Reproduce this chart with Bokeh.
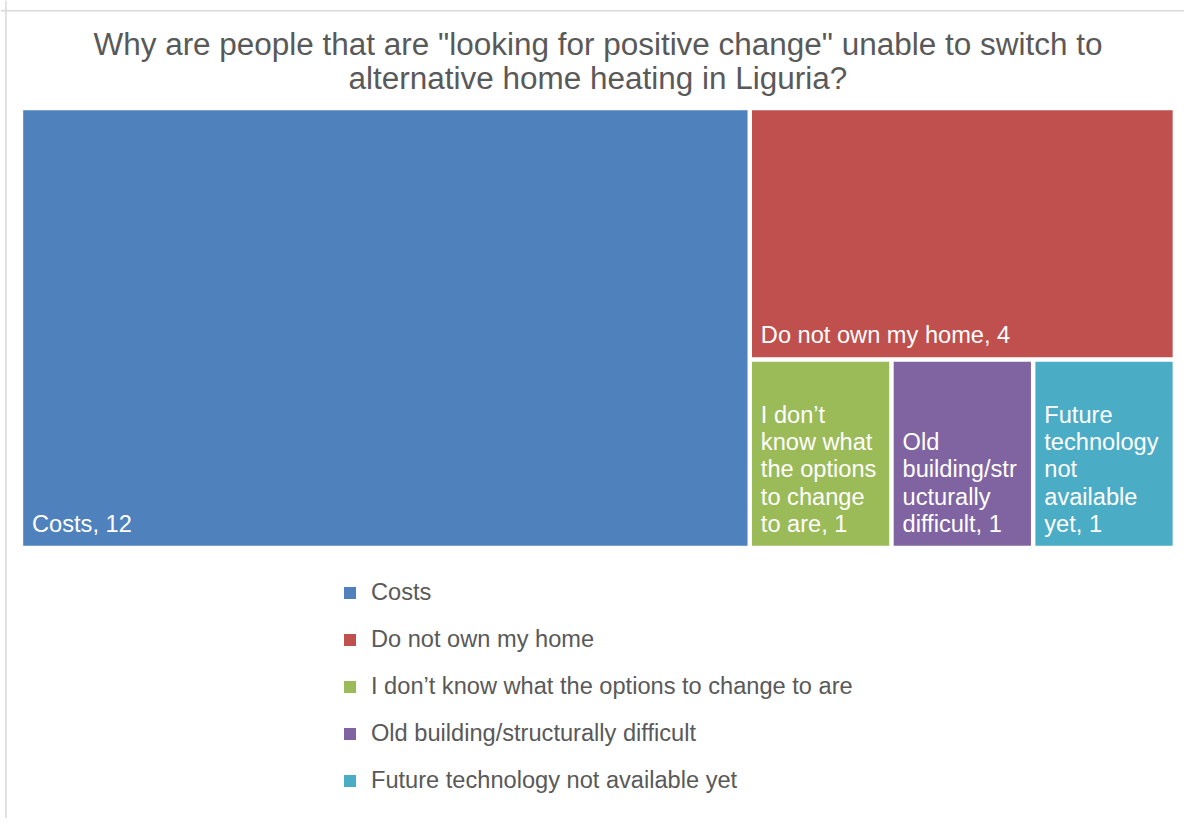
from bokeh.plotting import figure
from bokeh.models import Range1d, Legend, LegendItem, Span, ColumnDataSource
from bokeh.core.properties import value
from bokeh.embed import file_html
from bokeh.resources import INLINE

# ---- data ----
categories = [
    "Costs",
    "Do not own my home",
    "I don\u2019t know what the options to change to are",
    "Old building/structurally difficult",
    "Future technology not available yet",
]
counts = [12, 4, 1, 1, 1]
# box labels, wrapped as in the reference
box_labels = [
    "Costs, 12",
    "Do not own my home, 4",
    "I don\u2019t\nknow what\nthe options\nto change\nto are, 1",
    "Old\nbuilding/str\nucturally\ndifficult, 1",
    "Future\ntechnology\nnot\navailable\nyet, 1",
]
colors = ["#4F81BD", "#C0504D", "#9BBB59", "#8064A2", "#4BACC6"]
title_text = ('Why are people that are "looking for positive change" unable to switch to\n'
              'alternative home heating in Liguria?')

FONT = "Liberation Sans"
W, H = 1184, 818
REF_W, REF_H = 1200, 834
FS = (W / REF_W + H / REF_H) / 2  # font scale


# ---- squarified treemap layout ----
def worst(row, side):
    s = sum(row)
    return max(max(side * side * r / (s * s), s * s / (side * side * r)) for r in row)


def squarify(vals, x, y, w, h):
    total = float(sum(vals))
    sizes = [v * w * h / total for v in vals]
    rects = []
    while sizes:
        side = min(w, h)
        row = [sizes[0]]
        i = 1
        while i < len(sizes) and worst(row + [sizes[i]], side) <= worst(row, side):
            row.append(sizes[i])
            i += 1
        s = sum(row)
        if w >= h:
            cw = s / h
            yy = y
            for r in row:
                rh = r / cw
                rects.append((x, yy, cw, rh))
                yy += rh
            x += cw
            w -= cw
        else:
            rh = s / w
            xx = x
            for r in row:
                rw = r / rh
                rects.append((xx, y, rw, rh))
                xx += rw
            y += rh
            h -= rh
        sizes = sizes[i:]
    return rects


GAP = 4.5
TX0, TY0, TX1, TY1 = 23 - GAP / 2, 112 - GAP / 2, 1188 + GAP / 2, 556 + GAP / 2
rects = squarify(counts, TX0, TY0, TX1 - TX0, TY1 - TY0)

left = [r[0] + GAP / 2 for r in rects]
right = [r[0] + r[2] - GAP / 2 for r in rects]
top = [r[1] + GAP / 2 for r in rects]
bottom = [r[1] + r[3] - GAP / 2 for r in rects]

src = ColumnDataSource(dict(
    left=left, right=right, top=top, bottom=bottom,
    color=colors, label=box_labels,
    lx=[l + 9 for l in left],
    ly=[b - 9 for b in bottom],
))

p = figure(width=W, height=H, output_backend="svg", toolbar_location=None,
           x_range=Range1d(0, REF_W), y_range=Range1d(REF_H, 0),
           x_axis_location=None, y_axis_location=None, min_border=0,
           background_fill_color="white", border_fill_color="white")
p.outline_line_color = None
p.xgrid.visible = False
p.ygrid.visible = False
p.title.visible = False

# chart border (only top and left edges are visible in the reference)
p.add_layout(Span(location=10.5, dimension="width", line_color="#d9d9d9", line_width=1.5))
p.add_layout(Span(location=5.5, dimension="height", line_color="#d9d9d9", line_width=1.5))

tm = p.quad(left="left", right="right", top="top", bottom="bottom", source=src,
            fill_color="color", line_color=None)

p.text(x="lx", y="ly", text="label", source=src, text_color="white",
       text_font=value(FONT), text_font_size=f"{24 * FS:.2f}px", text_align="left",
       text_baseline="bottom", text_line_height=1.05)

# title
p.text(x=[(TX0 + TX1) / 2], y=[62.5], text=[title_text], text_color="#595959",
       text_font=value(FONT), text_font_size=f"{32 * FS:.2f}px", text_align="center",
       text_baseline="middle", text_line_height=0.98)

# legend
items = [LegendItem(label=c, renderers=[tm], index=i) for i, c in enumerate(categories)]
legend = Legend(items=items, location=(342, 24), orientation="vertical",
                glyph_width=15, glyph_height=15, label_standoff=14,
                spacing=20, label_height=24, padding=0, margin=0,
                border_line_color=None, background_fill_alpha=0,
                label_text_font=FONT, label_text_font_size=f"{24 * FS:.2f}px",
                label_text_color="#595959")
p.add_layout(legend, "center")

open("out.html", "w").write(file_html(p, INLINE))
